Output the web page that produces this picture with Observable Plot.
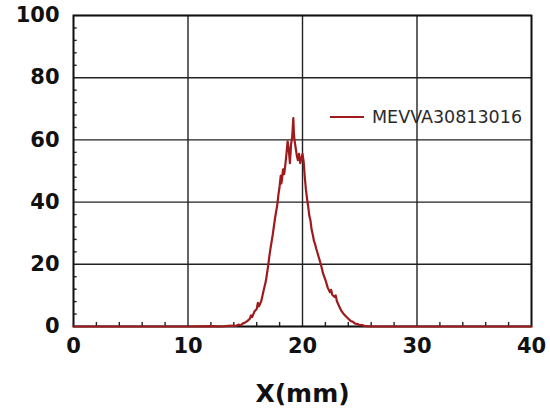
<!DOCTYPE html>
<html>
<head>
<meta charset="utf-8">
<script src="https://cdn.jsdelivr.net/npm/d3@7"></script>
<script src="https://cdn.jsdelivr.net/npm/@observablehq/plot@0.6"></script>
<style>
  html, body { margin: 0; padding: 0; background: #fff; }
  #wrap { position: relative; width: 550px; height: 410px; }
  #legend { position: absolute; left: 330px; top: 107px; display: flex; align-items: center;
    font-family: "DejaVu Sans", sans-serif; font-size: 17.5px; color: #2a2a2a; }
  #legend svg { margin-right: 8px; }
</style>
</head>
<body>
<div id="wrap"><div id="legend"></div></div>
<script>
const seriesName = "MEVVA30813016";
const xLabel = "X(mm)";
const xPos = [0, 5, 10, 12, 13, 13.5, 14.0, 14.2, 14.4, 14.6, 14.8, 15.0, 15.2, 15.4, 15.5, 15.6, 15.8, 16.0, 16.1, 16.2, 16.4, 16.6, 16.8, 17.0, 17.1, 17.2, 17.4, 17.6, 17.8, 17.9, 18.0, 18.1, 18.15, 18.2, 18.3, 18.4, 18.5, 18.6, 18.7, 18.8, 18.9, 19.0, 19.1, 19.2, 19.25, 19.3, 19.4, 19.5, 19.6, 19.7, 19.8, 19.9, 20.0, 20.1, 20.2, 20.3, 20.4, 20.5, 20.6, 20.7, 20.8, 20.9, 21.0, 21.1, 21.2, 21.3, 21.4, 21.6, 21.8, 22.0, 22.1, 22.2, 22.4, 22.5, 22.6, 22.8, 22.9, 23.0, 23.2, 23.4, 23.6, 23.8, 24.0, 24.2, 24.4, 24.6, 24.8, 25.0, 25.2, 25.4, 25.6, 26.0, 28, 32, 36, 40];
const intensity = [0, 0, 0, 0.1, 0, 0.2, 0.3, 0.2, 0.6, 0.4, 1.0, 1.3, 1.8, 2.5, 3.6, 3.0, 4.8, 5.6, 7.6, 6.5, 8.2, 11.5, 14.6, 19.5, 22.5, 25.0, 29.5, 34.8, 39.2, 42.5, 45.0, 48.5, 46.0, 47.0, 50.5, 49.0, 52.0, 55.5, 59.5, 57.0, 52.5, 58.5, 61.0, 67.0, 62.0, 60.0, 57.5, 55.0, 53.5, 55.5, 52.5, 54.0, 55.5, 53.0, 48.0, 44.0, 41.0, 38.5, 35.5, 34.0, 31.0, 29.5, 27.5, 26.5, 25.0, 23.8, 22.5, 20.0, 17.0, 15.0, 13.8, 12.5, 11.0, 11.8, 10.2, 9.5, 10.0, 8.2, 6.5, 5.0, 4.0, 3.2, 2.5, 1.8, 1.5, 0.9, 0.8, 0.4, 0.5, 0.2, 0.1, 0, 0, 0, 0, 0];
const xTicks = [0, 10, 20, 30, 40];
const yTicks = [0, 20, 40, 60, 80, 100];
const xMinor = [2, 4, 6, 8, 12, 14, 16, 18, 22, 24, 26, 28, 32, 34, 36, 38];
const yMinor = [4, 8, 12, 16, 24, 28, 32, 36, 44, 48, 52, 56, 64, 68, 72, 76, 84, 88, 92, 96];

const data = xPos.map((x, i) => ({x, y: intensity[i]}));
const lineColor = "#9e1a1d";

const chart = Plot.plot({
  width: 550,
  height: 410,
  marginLeft: 73,
  marginRight: 19,
  marginTop: 15,
  marginBottom: 84,
  style: {fontFamily: "DejaVu Sans, sans-serif", fontSize: "21px", fontWeight: "bold", color: "#111", background: "#fff"},
  x: {domain: [0, 40]},
  y: {domain: [0, 100]},
  marks: [
    Plot.gridX(xTicks, {stroke: "#222", strokeOpacity: 1, strokeWidth: 1.4}),
    Plot.gridY(yTicks, {stroke: "#222", strokeOpacity: 1, strokeWidth: 1.4}),
    Plot.ruleY(yMinor, {x1: 0, x2: 0.32, stroke: "#222", strokeWidth: 1.4}),
    Plot.ruleX(xMinor, {y1: 0, y2: 1.3, stroke: "#222", strokeWidth: 1.4}),
    Plot.frame({stroke: "#111", strokeWidth: 1.8}),
    Plot.line(data, {x: "x", y: "y", stroke: lineColor, strokeWidth: 2.2, strokeLinejoin: "round"}),
    Plot.axisX(xTicks, {tickSize: 0, tickPadding: 12, label: null, fontSize: 21, fontWeight: "bold"}),
    Plot.axisY(yTicks, {tickSize: 0, tickPadding: 14, label: null, fontSize: 21, fontWeight: "bold"}),
    Plot.text([xLabel], {frameAnchor: "bottom", dy: 75, fontSize: 25, fontWeight: "bold", fill: "#111"})
  ]
});
document.getElementById("wrap").prepend(chart);
document.getElementById("legend").innerHTML =
  `<svg width="34" height="4"><line x1="0" x2="34" y1="2" y2="2" stroke="${lineColor}" stroke-width="2"/></svg><span>${seriesName}</span>`;
</script>
</body>
</html>
